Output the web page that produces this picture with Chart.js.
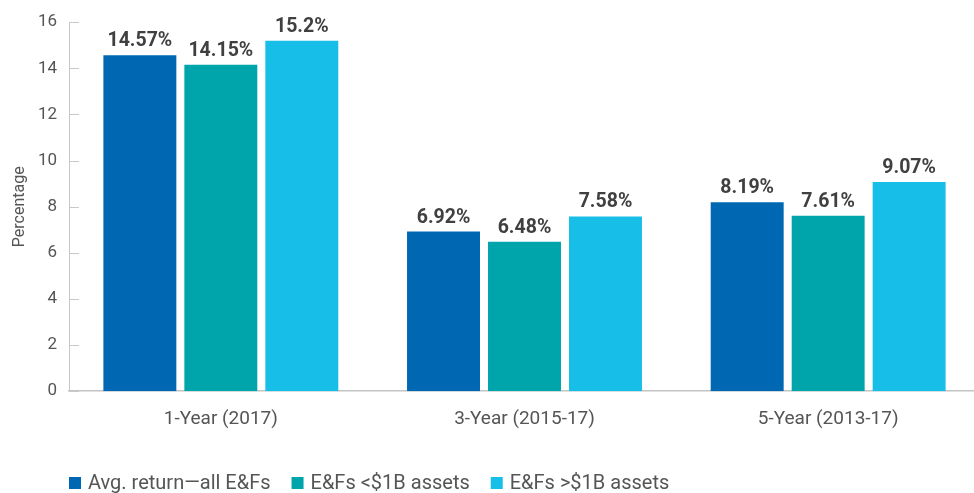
<!DOCTYPE html>
<html>
<head>
<meta charset="utf-8">
<script src="https://cdn.jsdelivr.net/npm/chart.js@4"></script>
<style>
  html, body { margin: 0; padding: 0; background: #fff; overflow: hidden; }
  #wrap { width: 980px; height: 493px; }
</style>
</head>
<body>
<div id="wrap"><canvas id="barChart"></canvas></div>
<script>
// chart data
var categories = ['1-Year (2017)', '3-Year (2015-17)', '5-Year (2013-17)'];
var seriesNames = ['Avg. return\u2014all E&Fs', 'E&Fs <$1B assets', 'E&Fs >$1B assets'];
var avgAll = [14.57, 6.92, 8.19];
var under1B = [14.15, 6.48, 7.61];
var over1B = [15.2, 7.58, 9.07];
var valueLabels = [
    ['14.57%', '6.92%', '8.19%'],
    ['14.15%', '6.48%', '7.61%'],
    ['15.2%', '7.58%', '9.07%']
];
var colors = ['#0068b3', '#00a5ac', '#17bfe8'];

var FONT = 'Roboto, "Liberation Sans", sans-serif';
var TEXT = '#555555';

// percent labels on top of the bars
var barLabels = {
    id: 'barLabels',
    afterDatasetsDraw: function(chart) {
        var ctx = chart.ctx;
        ctx.save();
        ctx.font = 'bold 19.5px ' + FONT;
        ctx.fillStyle = '#404040';
        ctx.textAlign = 'center';
        ctx.textBaseline = 'alphabetic';
        chart.data.datasets.forEach(function(ds, i) {
            chart.getDatasetMeta(i).data.forEach(function(bar, j) {
                ctx.fillText(valueLabels[i][j], bar.x, bar.y - 9);
            });
        });
        ctx.restore();
    }
};

// small inward tick marks on the y axis
var yTicks = {
    id: 'yTicks',
    afterDraw: function(chart) {
        var y = chart.scales.y, left = chart.chartArea.left;
        var ctx = chart.ctx;
        ctx.save();
        ctx.strokeStyle = '#c8c8c8';
        ctx.lineWidth = 1;
        y.ticks.forEach(function(t) {
            var py = Math.round(y.getPixelForValue(t.value)) + 0.5;
            ctx.beginPath();
            ctx.moveTo(left, py);
            ctx.lineTo(left + 10, py);
            ctx.stroke();
        });
        ctx.restore();
    }
};

// legend along the bottom, starting under the y axis
var bottomLegend = {
    id: 'bottomLegend',
    afterDraw: function(chart) {
        var ctx = chart.ctx;
        var x = chart.chartArea.left;
        var cy = 483;
        ctx.save();
        ctx.font = '20px ' + FONT;
        ctx.textBaseline = 'middle';
        ctx.textAlign = 'left';
        chart.data.datasets.forEach(function(ds) {
            ctx.fillStyle = ds.backgroundColor;
            ctx.fillRect(x, cy - 6, 12, 12);
            ctx.fillStyle = TEXT;
            ctx.fillText(ds.label, x + 19, cy + 1);
            x += 19 + ctx.measureText(ds.label).width + 21;
        });
        ctx.restore();
    }
};

var ctx = document.getElementById('barChart').getContext('2d');
new Chart(ctx, {
    type: 'bar',
    data: {
        labels: categories,
        datasets: [avgAll, under1B, over1B].map(function(vals, i) {
            return {
                label: seriesNames[i],
                data: vals,
                backgroundColor: colors[i],
                categoryPercentage: 0.8,
                barPercentage: 0.901
            };
        })
    },
    options: {
        responsive: true,
        maintainAspectRatio: false,
        animation: false,
        layout: { padding: { top: 8, right: 0, left: 0, bottom: 45 } },
        plugins: {
            legend: { display: false },
            tooltip: { enabled: false }
        },
        scales: {
            x: {
                grid: { display: false, drawTicks: false },
                border: { color: '#c4c4c4', width: 1.5 },
                afterFit: function(scale) {
                    scale.paddingLeft = 0;
                    scale.paddingRight = 0;
                },
                ticks: {
                    color: TEXT,
                    padding: 17,
                    font: { family: FONT, size: 19 }
                }
            },
            y: {
                min: 0,
                max: 16,
                grid: { display: false, drawTicks: false },
                border: { color: '#c8c8c8', width: 1 },
                afterFit: function(scale) {
                    scale.width = 69;
                },
                title: {
                    display: true,
                    text: 'Percentage',
                    color: TEXT,
                    font: { family: FONT, size: 16 },
                    padding: { top: 10, bottom: 8 }
                },
                ticks: {
                    stepSize: 2,
                    color: TEXT,
                    padding: 12,
                    font: { family: FONT, size: 17 }
                }
            }
        }
    },
    plugins: [barLabels, yTicks, bottomLegend]
});
</script>
</body>
</html>
